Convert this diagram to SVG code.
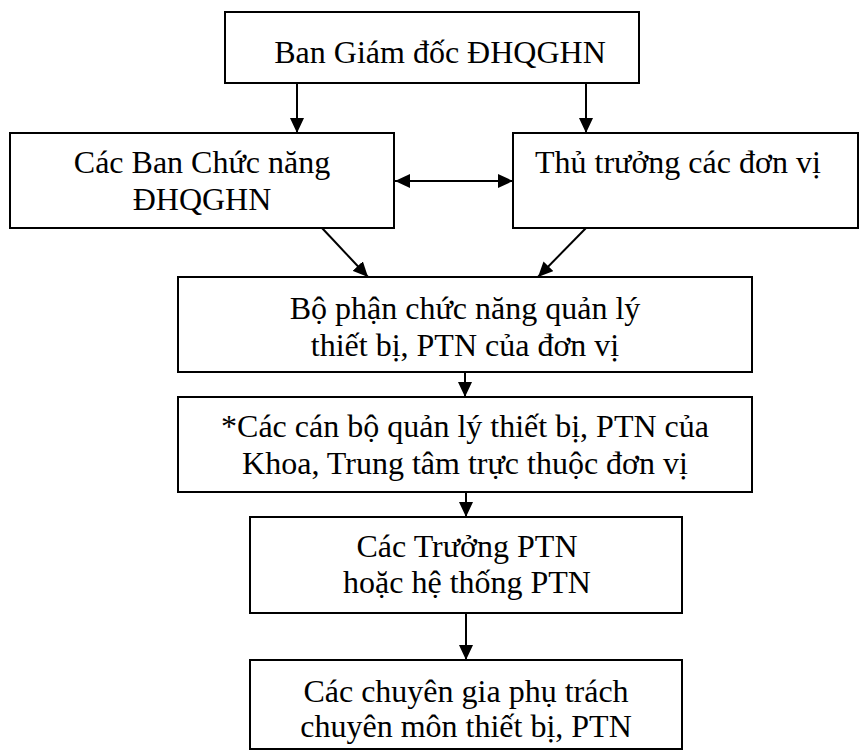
<svg xmlns="http://www.w3.org/2000/svg" width="864" height="751" viewBox="0 0 864 751">
<style>
  .box{fill:#fff;stroke:#000;stroke-width:2}
  .t{font-family:"Liberation Serif","Times New Roman",serif;font-size:32px;fill:#000;text-anchor:middle}
  .c{stroke:#000;stroke-width:2;fill:none;marker-end:url(#ah)}
</style>
<defs>
  <marker id="ah" markerUnits="userSpaceOnUse" markerWidth="15" markerHeight="14" refX="15" refY="7" orient="auto-start-reverse" viewBox="0 0 15 14">
    <path d="M0,0 L15,7 L0,14 z" fill="#000"/>
  </marker>
</defs>
<rect width="864" height="751" fill="#fff"/>
<g id="n1">
  <rect class="box" x="225" y="12" width="414" height="71"/>
  <text class="t" x="440" y="63">Ban Giám đốc ĐHQGHN</text>
</g>
<g id="n2">
  <rect class="box" x="10" y="133" width="384" height="95"/>
  <text class="t" x="202" y="173">Các Ban Chức năng</text>
  <text class="t" x="202" y="210">ĐHQGHN</text>
</g>
<g id="n3">
  <rect class="box" x="513" y="133" width="345" height="95"/>
  <text class="t" x="535" y="173" style="text-anchor:start">Thủ trưởng các đơn vị</text>
</g>
<g id="n4">
  <rect class="box" x="178" y="277" width="574" height="95"/>
  <text class="t" x="465" y="319">Bộ phận chức năng quản lý</text>
  <text class="t" x="465" y="356">thiết bị, PTN của đơn vị</text>
</g>
<g id="n5">
  <rect class="box" x="178" y="397" width="574" height="95"/>
  <text class="t" x="465" y="437">*Các cán bộ quản lý thiết bị, PTN của</text>
  <text class="t" x="465" y="474">Khoa, Trung tâm trực thuộc đơn vị</text>
</g>
<g id="n6">
  <rect class="box" x="250" y="517" width="432" height="96"/>
  <text class="t" x="467" y="557">Các Trưởng PTN</text>
  <text class="t" x="467" y="593">hoặc hệ thống PTN</text>
</g>
<g id="n7">
  <rect class="box" x="250" y="660" width="432" height="89"/>
  <text class="t" x="466" y="702">Các chuyên gia phụ trách</text>
  <text class="t" x="466" y="737">chuyên môn thiết bị, PTN</text>
</g>
<g id="connectors">
  <line class="c" x1="297" y1="83" x2="297" y2="133"/>
  <line class="c" x1="586" y1="83" x2="586" y2="133"/>
  <line class="c" x1="395" y1="181" x2="513" y2="181" style="marker-start:url(#ah)"/>
  <line class="c" x1="322" y1="228" x2="368" y2="277"/>
  <line class="c" x1="586" y1="228" x2="538" y2="277"/>
  <line class="c" x1="465" y1="372" x2="465" y2="397"/>
  <line class="c" x1="466" y1="492" x2="466" y2="517"/>
  <line class="c" x1="466" y1="613" x2="466" y2="660"/>
</g>
</svg>
